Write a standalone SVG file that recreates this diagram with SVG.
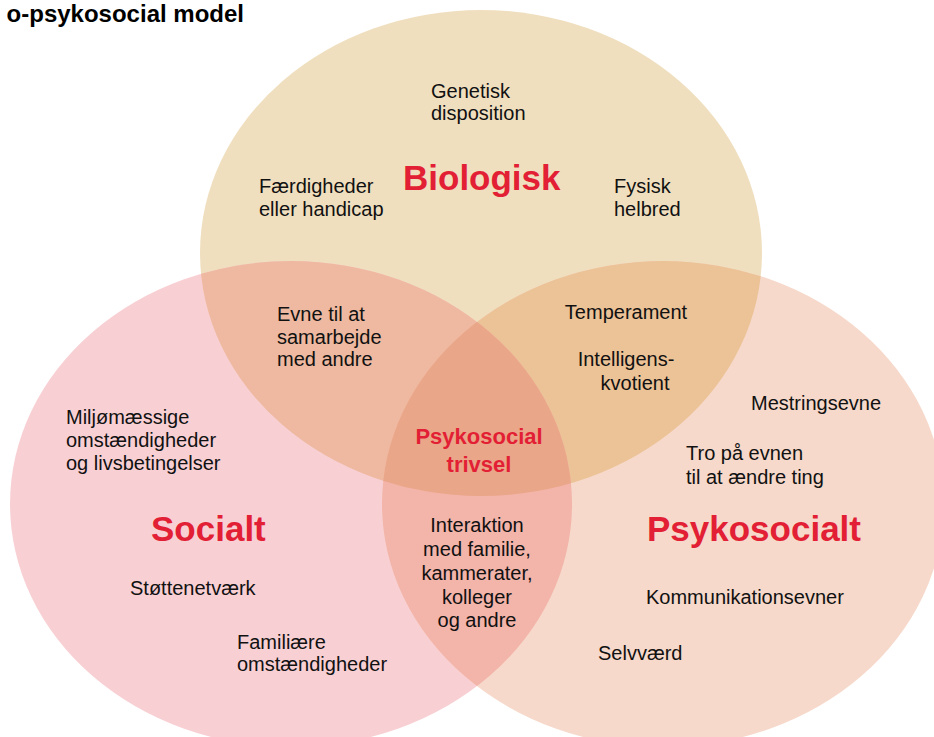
<svg xmlns="http://www.w3.org/2000/svg" width="934" height="737" viewBox="0 0 934 737">
<style>
.t{font-family:"Liberation Sans",Arial,sans-serif;font-size:20px;fill:#111}
.c{text-anchor:middle}
.big{font-family:"Liberation Sans",Arial,sans-serif;font-weight:bold;font-size:35px;fill:#e21f34}
.mid{font-family:"Liberation Sans",Arial,sans-serif;font-weight:bold;font-size:22px;fill:#e21f34;text-anchor:middle}
.title{font-family:"Liberation Sans",Arial,sans-serif;font-weight:bold;font-size:24px;fill:#000;text-anchor:end}
</style>
<defs>
<ellipse id="eT" cx="481" cy="253" rx="281" ry="243"/>
<ellipse id="eL" cx="291" cy="504" rx="281" ry="243"/>
<ellipse id="eR" cx="663" cy="504" rx="281" ry="243"/>
<clipPath id="cT"><use href="#eT"/></clipPath>
<clipPath id="cR"><use href="#eR"/></clipPath>
</defs>
<rect width="934" height="737" fill="#fff"/>
<text class="title" x="244" y="22">o-psykosocial model</text>
<g id="circles">
<use href="#eT" fill="#f0dfbf"/>
<use href="#eL" fill="#f8d0d4"/>
<use href="#eR" fill="#f6d9ca"/>
<g clip-path="url(#cT)">
<use href="#eL" fill="#eeb9a0"/>
<use href="#eR" fill="#ecc297"/>
</g>
<g clip-path="url(#cR)">
<use href="#eL" fill="#f3b4aa"/>
<g clip-path="url(#cT)"><use href="#eL" fill="#eaa688"/></g>
</g>
</g>
<g id="biologisk">
<text class="big" x="403" y="190">Biologisk</text>
<text class="t" x="431" y="98">Genetisk</text>
<text class="t" x="431" y="120">disposition</text>
<text class="t" x="259" y="193">Færdigheder</text>
<text class="t" x="259" y="216">eller handicap</text>
<text class="t" x="614" y="193">Fysisk</text>
<text class="t" x="614" y="216">helbred</text>
</g>
<g id="bio-social">
<text class="t" x="277" y="321">Evne til at</text>
<text class="t" x="277" y="344">samarbejde</text>
<text class="t" x="277" y="366">med andre</text>
</g>
<g id="bio-psyko">
<text class="t c" x="626" y="319">Temperament</text>
<text class="t c" x="626" y="366">Intelligens-</text>
<text class="t c" x="635" y="390">kvotient</text>
</g>
<g id="center">
<text class="mid" x="479" y="444">Psykosocial</text>
<text class="mid" x="479" y="472">trivsel</text>
</g>
<g id="socialt">
<text class="big" x="151" y="541">Socialt</text>
<text class="t" x="66" y="424">Miljømæssige</text>
<text class="t" x="66" y="447">omstændigheder</text>
<text class="t" x="66" y="470">og livsbetingelser</text>
<text class="t" x="130" y="595">Støttenetværk</text>
<text class="t" x="237" y="649">Familiære</text>
<text class="t" x="237" y="671">omstændigheder</text>
</g>
<g id="social-psyko">
<text class="t c" x="477" y="532">Interaktion</text>
<text class="t c" x="477" y="556">med familie,</text>
<text class="t c" x="477" y="580">kammerater,</text>
<text class="t c" x="477" y="604">kolleger</text>
<text class="t c" x="477" y="627">og andre</text>
</g>
<g id="psykosocialt">
<text class="big" x="647" y="541">Psykosocialt</text>
<text class="t" x="751" y="410">Mestringsevne</text>
<text class="t" x="686" y="460">Tro på evnen</text>
<text class="t" x="686" y="484">til at ændre ting</text>
<text class="t" x="646" y="604">Kommunikationsevner</text>
<text class="t" x="598" y="660">Selvværd</text>
</g>
</svg>
